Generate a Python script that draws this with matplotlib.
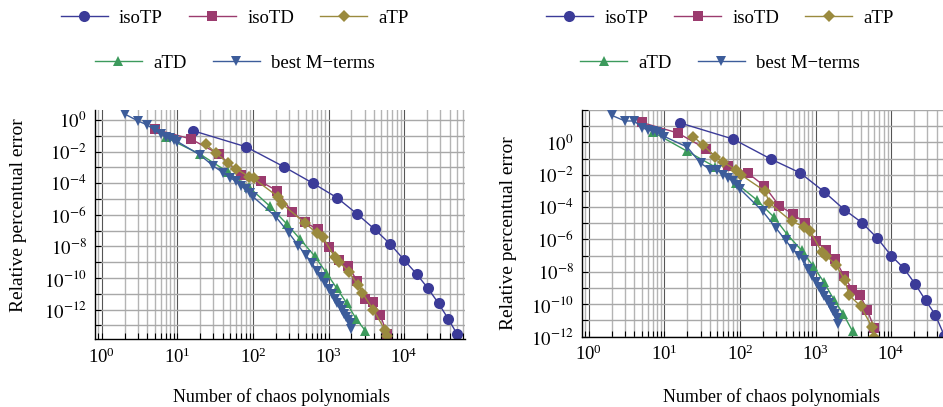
import math
import matplotlib
matplotlib.use("Agg")
import matplotlib.pyplot as plt
from matplotlib.ticker import FixedLocator, FuncFormatter, LogLocator, NullLocator, LogFormatterMathtext

# Times-like text with matching math digits
plt.rcParams['font.family'] = 'serif'
plt.rcParams['font.serif'] = ['Liberation Serif', 'DejaVu Serif']
plt.rcParams['mathtext.fontset'] = 'stix'

# number of chaos polynomials for each truncation scheme (d = 4)
iso_tp_n = [16, 81, 256, 625, 1296, 2401, 4096, 6561, 10000, 14641, 20736, 28561, 38416, 50625]
iso_td_n = [5, 15, 35, 70, 126, 210, 330, 495, 715, 1001, 1365, 1820, 2380, 3060, 3876, 4845, 5985]
a_tp_n = [24, 32, 47, 60, 89, 102, 214, 244, 482, 701, 841, 1200, 1370, 1858, 2443, 2786, 3935, 5600, 6000]
a_td_n = [7, 20, 47, 89, 166, 281, 422, 653, 931, 1289, 1747, 2321, 3085]
best_m_n = [2, 3, 4, 5, 6, 7, 8, 9, 10,
            20, 30, 40, 50, 60, 70, 80, 90, 100,
            200, 300, 400, 500, 600, 700, 800, 900, 1000,
            1100, 1200, 1300, 1400, 1500, 1600, 1700, 1800, 1900, 2000]

# relative percentual error, left case
left_iso_tp = [2.1e-1, 2.0e-2, 1.1e-3, 9.8e-5, 1.2e-5, 1.1e-6, 1.2e-7, 1.4e-8, 1.4e-9,
               1.8e-10, 2.2e-11, 2.5e-12, 2.6e-13, 2.7e-14]
left_iso_td = [2.6e-1, 6.3e-2, 7.1e-3, 3.3e-4, 1.3e-4, 3.2e-5, 1.4e-6, 3.3e-7, 1.2e-7,
               9.5e-9, 1.3e-9, 5.8e-10, 6.8e-11, 4.5e-12, 3.2e-12, 4.6e-13, 2.7e-14]
left_a_tp = [2.9e-2, 8.5e-3, 1.8e-3, 7.9e-4, 2.6e-4, 2.0e-4, 1.4e-5, 4.8e-6, 3.2e-7, 6.8e-8,
             3.7e-8, 2.2e-9, 1.1e-9, 2.5e-10, 3.6e-11, 1.2e-11, 9.3e-13, 5.1e-14, 2.1e-14]
left_a_td = [7.9e-2, 6.8e-3, 4.9e-4, 5.5e-5, 3.6e-6, 2.6e-7, 2.8e-8, 2.5e-9, 2.2e-10,
             2.2e-11, 2.5e-12, 2.6e-13, 4.5e-14]
left_best_m = [2.4e0, 8.7e-1, 4.8e-1, 2.3e-1, 1.3e-1, 8.9e-2, 6.9e-2, 5.5e-2, 4.3e-2,
               6.0e-3, 1.2e-3, 4.7e-4, 2.2e-4, 1.3e-4, 6.6e-5, 4.1e-5, 2.5e-5, 1.4e-5,
               7.6e-7, 6.8e-8, 1.1e-8, 2.8e-9, 9.3e-10, 2.9e-10, 1.1e-10, 4.6e-11, 1.9e-11,
               1.0e-11, 5.0e-12, 2.8e-12, 1.6e-12, 1.0e-12, 5.6e-13, 3.5e-13, 2.2e-13, 1.4e-13, 6.3e-14]

# relative percentual error, right case
right_iso_tp = [1.6e1, 1.6e0, 9.3e-2, 1.3e-2, 8.9e-4, 6.9e-5, 1.1e-5, 1.2e-6, 1.0e-7,
                1.7e-8, 1.8e-9, 1.7e-10, 2.2e-11, 1.1e-12]
right_iso_td = [1.7e1, 3.8e0, 4.1e-1, 3.3e-2, 1.3e-2, 2.0e-3, 1.2e-4, 3.9e-5, 1.1e-5,
                7.9e-7, 2.3e-7, 6.0e-8, 5.4e-9, 7.8e-10, 3.6e-10, 4.1e-11, 3.3e-12]
right_a_tp = [2.3e0, 7.2e-1, 1.3e-1, 5.8e-2, 2.0e-2, 1.0e-2, 9.8e-4, 1.8e-4, 1.3e-5, 6.3e-6,
              3.5e-6, 1.7e-7, 1.0e-7, 2.7e-8, 2.9e-9, 3.5e-10, 7.6e-11, 3.8e-12, 1.0e-12]
right_a_td = [4.4e0, 2.8e-1, 3.0e-2, 3.0e-3, 2.8e-4, 2.4e-5, 2.0e-6, 2.1e-7, 2.2e-8,
              2.3e-9, 1.9e-10, 2.5e-11, 2.1e-12]
right_best_m = [4.7e1, 2.1e1, 2.1e1, 8.1e0, 6.0e0, 5.0e0, 4.4e0, 3.2e0, 2.3e0,
                5.1e-1, 5.2e-2, 2.1e-2, 2.1e-2, 1.0e-2, 6.5e-3, 3.9e-3, 2.2e-3, 1.3e-3,
                5.4e-5, 5.0e-6, 8.7e-7, 2.6e-7, 1.0e-7, 5.0e-8, 1.5e-8, 5.9e-9, 2.3e-9,
                1.1e-9, 5.6e-10, 3.2e-10, 1.8e-10, 1.1e-10, 6.3e-11, 4.0e-11, 2.5e-11, 1.4e-11, 6.0e-12]

labels = ['isoTP', 'isoTD', 'aTP', 'aTD', 'best M\u2212terms']
colors = ['#3b3b98', '#9b3b6e', '#9a8a3e', '#3c9a5c', '#3c5c9a']
markers = ['o', 's', 'D', '^', 'v']
msizes = [8, 7, 6.5, 7.5, 6.5]
even_exps = [0, -2, -4, -6, -8, -10, -12]


def decade_label(v, pos):
    e = int(round(math.log10(v)))
    return '$10^{%d}$' % e if e in even_exps else ''


def draw_panel(ax, series, ylim):
    for (n, err), lab, c, m, ms in zip(series, labels, colors, markers, msizes):
        ax.plot(n, err, color=c, marker=m, markersize=ms, lw=1.0,
                markeredgewidth=0, label=lab)
    ax.set_xscale('log')
    ax.set_yscale('log')
    ax.set_xlim(0.81, 6.4e4)
    ax.set_ylim(*ylim)

    ax.xaxis.set_major_locator(LogLocator(base=10))
    ax.xaxis.set_minor_locator(LogLocator(base=10, subs=range(2, 10)))
    ax.xaxis.set_major_formatter(LogFormatterMathtext())
    ax.xaxis.set_minor_formatter(FuncFormatter(lambda v, p: ''))

    # a tick at every decade, labels on every other one
    ax.yaxis.set_major_locator(FixedLocator([10.0 ** e for e in range(-14, 3)]))
    ax.yaxis.set_minor_locator(NullLocator())
    ax.yaxis.set_major_formatter(FuncFormatter(decade_label))

    ax.grid(which='major', axis='x', color='#555555', lw=0.8)
    ax.grid(which='minor', axis='x', color='#b4b4b4', lw=1.0)
    ax.grid(which='major', axis='y', color='#a8a8a8', lw=1.0)
    ax.set_axisbelow(True)

    for s in ['top', 'right']:
        ax.spines[s].set_visible(False)
    for s in ['left', 'bottom']:
        ax.spines[s].set_linewidth(1.0)
    ax.tick_params(which='both', direction='in', length=4, width=0.8,
                   top=False, right=False, labelsize=13.5, pad=6)

    ax.set_xlabel('Number of chaos polynomials', fontsize=13)
    ax.set_ylabel('Relative percentual error', fontsize=14)


fig = plt.figure(figsize=(9.43, 4.07), dpi=100)

ax1 = fig.add_axes([0.1007, 0.167, 0.3924, 0.5627])
draw_panel(ax1, [(iso_tp_n, left_iso_tp), (iso_td_n, left_iso_td), (a_tp_n, left_a_tp),
                 (a_td_n, left_a_td), (best_m_n, left_best_m)],
           (10 ** -13.86, 10 ** 0.63))
ax1.xaxis.set_label_coords(0.505, -0.215)
ax1.yaxis.set_label_coords(-0.184, 0.541)

ax2 = fig.add_axes([0.6172, 0.1732, 0.3924, 0.5565])
draw_panel(ax2, [(iso_tp_n, right_iso_tp), (iso_td_n, right_iso_td), (a_tp_n, right_a_tp),
                 (a_td_n, right_a_td), (best_m_n, right_best_m)],
           (1e-12, 1e2))
ax2.xaxis.set_label_coords(0.511, -0.228)
ax2.yaxis.set_label_coords(-0.176, 0.457)

# two centred legend rows above each panel
for ax, cx in [(ax1, 0.249), (ax2, 0.7635)]:
    h, l = ax.get_legend_handles_labels()
    fig.legend(h[:3], l[:3], loc='center', bbox_to_anchor=(cx, 0.955), ncol=3,
               frameon=False, fontsize=13.5, handlelength=2.5, handletextpad=0.6,
               columnspacing=1.4)
    fig.legend(h[3:], l[3:], loc='center', bbox_to_anchor=(cx, 0.845), ncol=2,
               frameon=False, fontsize=13.5, handlelength=2.5, handletextpad=0.6,
               columnspacing=1.4)

fig.savefig('out.png', dpi=100)
